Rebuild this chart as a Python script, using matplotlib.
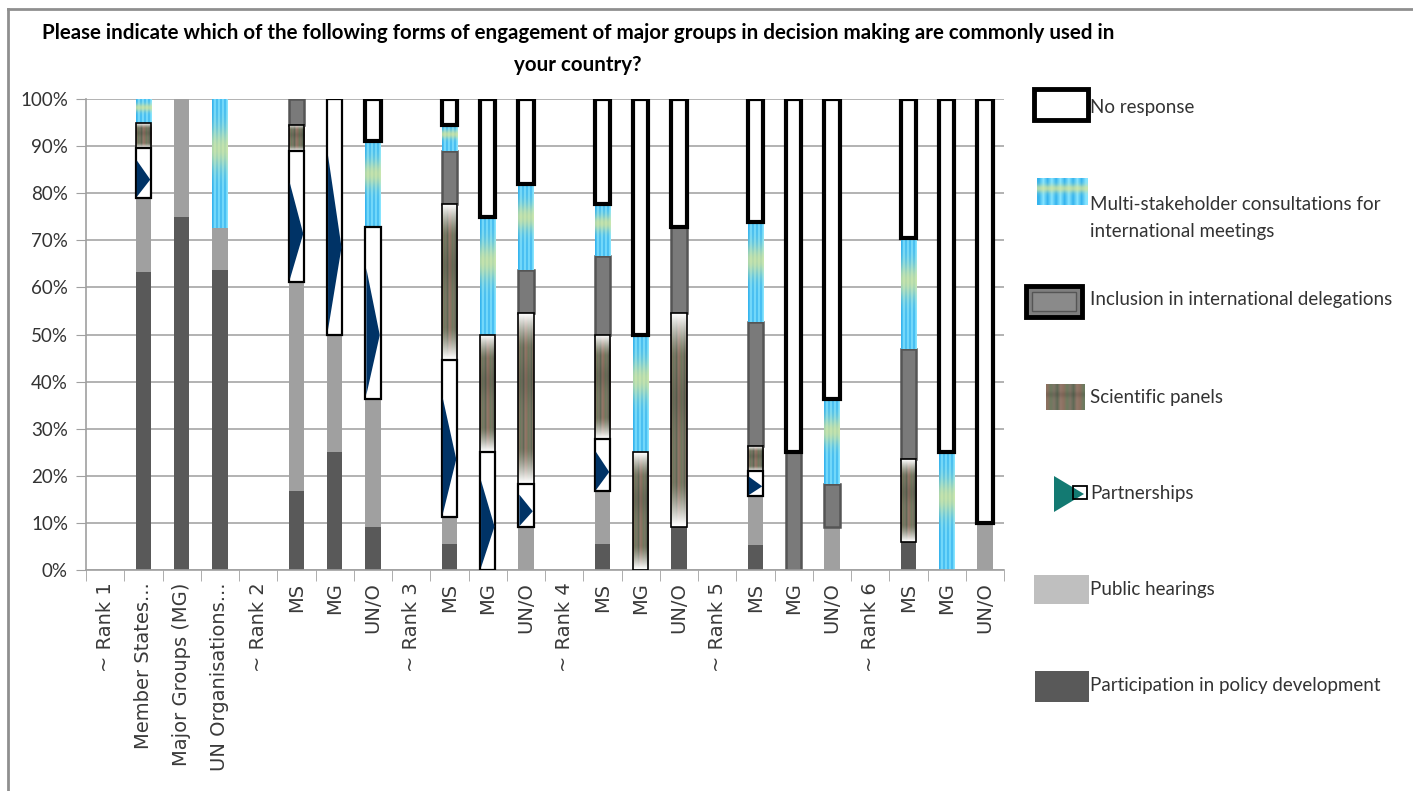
import numpy as np
import matplotlib
matplotlib.use('Agg')
import matplotlib.pyplot as plt
from matplotlib.patches import Rectangle, Polygon
from matplotlib.colors import to_rgb

# categories along the x axis (rank separators are empty slots)
labels = ['~ Rank 1', 'Member States...', 'Major Groups (MG)', 'UN Organisations...',
          '~ Rank 2', 'MS', 'MG', 'UN/O',
          '~ Rank 3', 'MS', 'MG', 'UN/O',
          '~ Rank 4', 'MS', 'MG', 'UN/O',
          '~ Rank 5', 'MS', 'MG', 'UN/O',
          '~ Rank 6', 'MS', 'MG', 'UN/O']

# percent of respondents, stacked bottom to top
participation = [0, 63.2, 75.0, 63.6, 0, 16.7, 25.0, 9.1, 0, 5.6, 0, 0,
                 0, 5.6, 0, 9.1, 0, 5.3, 0, 0, 0, 5.9, 0, 0]
public_hearings = [0, 15.8, 25.0, 9.1, 0, 44.4, 25.0, 27.3, 0, 5.6, 0, 9.1,
                   0, 11.1, 0, 0, 0, 10.5, 0, 9.1, 0, 0, 0, 10.0]
partnerships = [0, 10.5, 0, 0, 0, 27.8, 50.0, 36.4, 0, 33.3, 25.0, 9.1,
                0, 11.1, 0, 0, 0, 5.3, 0, 0, 0, 0, 0, 0]
scientific = [0, 5.3, 0, 0, 0, 5.6, 0, 0, 0, 33.3, 25.0, 36.4,
              0, 22.2, 25.0, 45.5, 0, 5.3, 0, 0, 0, 17.6, 0, 0]
inclusion = [0, 0, 0, 0, 0, 5.6, 0, 0, 0, 11.1, 0, 9.1,
             0, 16.7, 0, 18.2, 0, 26.3, 25.0, 9.1, 0, 23.5, 0, 0]
multi_stake = [0, 5.3, 0, 27.3, 0, 0, 0, 18.2, 0, 5.6, 25.0, 18.2,
               0, 11.1, 25.0, 0, 0, 21.1, 0, 18.2, 0, 23.5, 25.0, 0]
no_response = [0, 0, 0, 0, 0, 0, 0, 9.1, 0, 5.6, 25.0, 18.2,
               0, 22.2, 50.0, 27.3, 0, 26.3, 75.0, 63.6, 0, 29.4, 75.0, 90.0]

title = ("Please indicate which of the following forms of engagement of major groups in decision making are commonly used in\n"
         "your country?")
legend_labels = ['No response', 'Multi-stakeholder consultations for\ninternational meetings',
                 'Inclusion in international delegations', 'Scientific panels',
                 'Partnerships', 'Public hearings', 'Participation in policy development']


def msc_texture(rows=60, cols=8):
    blue = np.array(to_rgb('#36b4ee'))
    light = np.array(to_rgb('#86e4ff'))
    yellow = np.array(to_rgb('#e6e78c'))
    img = np.zeros((rows, cols, 3))
    for i in range(rows):
        t = i / (rows - 1)
        f = 0.7 * np.exp(-((t - 0.38) / 0.16) ** 2)
        for j in range(cols):
            base = blue if j % 2 == 0 else light
            img[i, j] = base * (1 - f) + yellow * f
    return img


def sci_texture(rows=60, cols=10, fade=True):
    cs = [np.array(to_rgb(c)) for c in ['#8c7160', '#6d7b5f', '#7f7566', '#5f6a56', '#93786a']]
    img = np.zeros((rows, cols, 3))
    for i in range(rows):
        t = i / (rows - 1)
        w = 0.0
        if fade:
            w = np.clip(1 - min(t, 1 - t) / 0.2, 0, 1) ** 1.3
        band = 0.12 * np.exp(-((t - 0.4) / 0.12) ** 2)
        for j in range(cols):
            c = cs[j % len(cs)] * (1 - band)
            img[i, j] = c * (1 - w) + np.ones(3) * w
    return img


fig = plt.figure(figsize=(14.13, 7.91), dpi=100)
fig.patch.set_facecolor('white')
ax = fig.add_axes([86 / 1413, 1 - 570 / 791, (1004 - 86) / 1413, (570 - 99) / 791])

x = np.arange(len(labels))
bottom = np.zeros(len(labels))
width = 0.41


def stack(vals, **kw):
    v = np.array(vals, float)
    idx = np.nonzero(v)[0]
    bars = ax.bar(x[idx], v[idx], width, bottom=bottom[idx], **kw)
    return bars, v


# participation in policy development
b, v = stack(participation, color='#595959', zorder=2)
bottom += v
# public hearings
b, v = stack(public_hearings, color='#a0a0a0', zorder=2)
bottom += v
# partnerships: white box with navy arrow head
b, v = stack(partnerships, facecolor='white', edgecolor='black', lw=1.6, zorder=3)
for r in b:
    x0, y0, w, h = r.get_x(), r.get_y(), r.get_width(), r.get_height()
    tri = Polygon([(x0 + 0.08 * w, y0 + 0.02 * h), (x0 + 0.08 * w, y0 + 0.76 * h),
                   (x0 + 0.94 * w, y0 + 0.37 * h)], closed=True,
                  facecolor='#003366', edgecolor='none', zorder=3.1)
    ax.add_patch(tri)
bottom += v
# scientific panels: textured
b, v = stack(scientific, color='#7a7366', zorder=2)
for r in b:
    im = ax.imshow(sci_texture(), extent=(r.get_x(), r.get_x() + r.get_width(),
                                          r.get_y(), r.get_y() + r.get_height()),
                   aspect='auto', zorder=2.2, interpolation='bilinear')
    im.set_clip_path(r)
stack(scientific, fill=False, edgecolor='black', lw=1.2, zorder=3)
bottom += v
# inclusion in international delegations
b, v = stack(inclusion, facecolor='#7a7a7a', edgecolor='#555555', lw=1.8, zorder=2)
bottom += v
# multi-stakeholder consultations: striped
b, v = stack(multi_stake, color='#4cc4f4', zorder=2)
for r in b:
    im = ax.imshow(msc_texture(), extent=(r.get_x(), r.get_x() + r.get_width(),
                                          r.get_y(), r.get_y() + r.get_height()),
                   aspect='auto', zorder=2.2, interpolation='bilinear')
    im.set_clip_path(r)
bottom += v
# no response
b, v = stack(no_response, facecolor='white', edgecolor='black', lw=3, zorder=4)
bottom += v

ax.set_xlim(-0.5, len(labels) - 0.5)
ax.set_ylim(0, 100)
ax.set_yticks(np.arange(0, 101, 10))
ax.set_yticklabels(['{}%'.format(t) for t in range(0, 101, 10)],
                   fontfamily='Lato', fontsize=13.5, color='#333333')
ax.yaxis.grid(True, color='#a6a6a6', lw=1.2)
ax.set_axisbelow(True)
ax.tick_params(axis='y', length=7, color='#a0a0a0', pad=6)
ax.set_xticks(x)
ax.set_xticklabels(labels, rotation=90, fontfamily='DejaVu Sans', fontsize=14,
                   color='#3a3a3a', va='top', ha='center')
ax.tick_params(axis='x', which='major', length=0, pad=9)
ax.set_xticks(np.arange(-0.5, len(labels)), minor=True)
ax.tick_params(axis='x', which='minor', length=8, color='#a0a0a0')
for s in ['top', 'right']:
    ax.spines[s].set_visible(False)
for s in ['left', 'bottom']:
    ax.spines[s].set_color('#a0a0a0')
    ax.spines[s].set_linewidth(1.2)

fig.text(578 / 1413, 1 - 49 / 791, title, ha='center', va='center',
         fontfamily='Lato', fontweight='bold', fontsize=14.8, linespacing=1.72)

# legend drawn by hand in pixel coordinates
lax = fig.add_axes([0, 0, 1, 1])
lax.set_xlim(0, 1413)
lax.set_ylim(791, 0)
lax.axis('off')
lax.patch.set_alpha(0)
lax.plot([8, 8], [9, 791], color='#8f8f8f', lw=2)
lax.plot([8, 1413], [9, 9], color='#8f8f8f', lw=2)

lax.add_patch(Rectangle((1034, 89), 54, 31, facecolor='white', edgecolor='black', lw=3.5))
leg_msc = msc_texture(rows=20, cols=12)
lax.imshow(leg_msc, extent=(1037, 1088, 205, 178), aspect='auto', interpolation='bilinear')
lax.add_patch(Rectangle((1026, 286), 56, 31, facecolor='#7f7f7f', edgecolor='black', lw=3.5))
lax.add_patch(Rectangle((1032, 292), 44, 19, facecolor='#8a8a8a', edgecolor='#555555', lw=1))
lax.imshow(sci_texture(rows=20, cols=12, fade=False), extent=(1046, 1085, 410, 384),
           aspect='auto', interpolation='bilinear')
lax.add_patch(Polygon([(1054, 476), (1054, 512), (1084, 494)], closed=True,
                      facecolor='#137a72', edgecolor='none'))
lax.add_patch(Rectangle((1073, 486), 14, 13, facecolor='none', edgecolor='black', lw=1.3))
lax.add_patch(Rectangle((1034, 575), 55, 29, facecolor='#bfbfbf', edgecolor='none'))
lax.add_patch(Rectangle((1035, 671), 54, 31, facecolor='#595959', edgecolor='none'))
lax.set_xlim(0, 1413)
lax.set_ylim(791, 0)

leg_y = [107, 218, 300, 397, 493, 590, 686]
for ly, lt in zip(leg_y, legend_labels):
    lax.text(1090, ly, lt, ha='left', va='center', fontfamily='Lato', fontsize=13.5,
             color='#333333', linespacing=1.75)

plt.savefig('out.png', dpi=100)
